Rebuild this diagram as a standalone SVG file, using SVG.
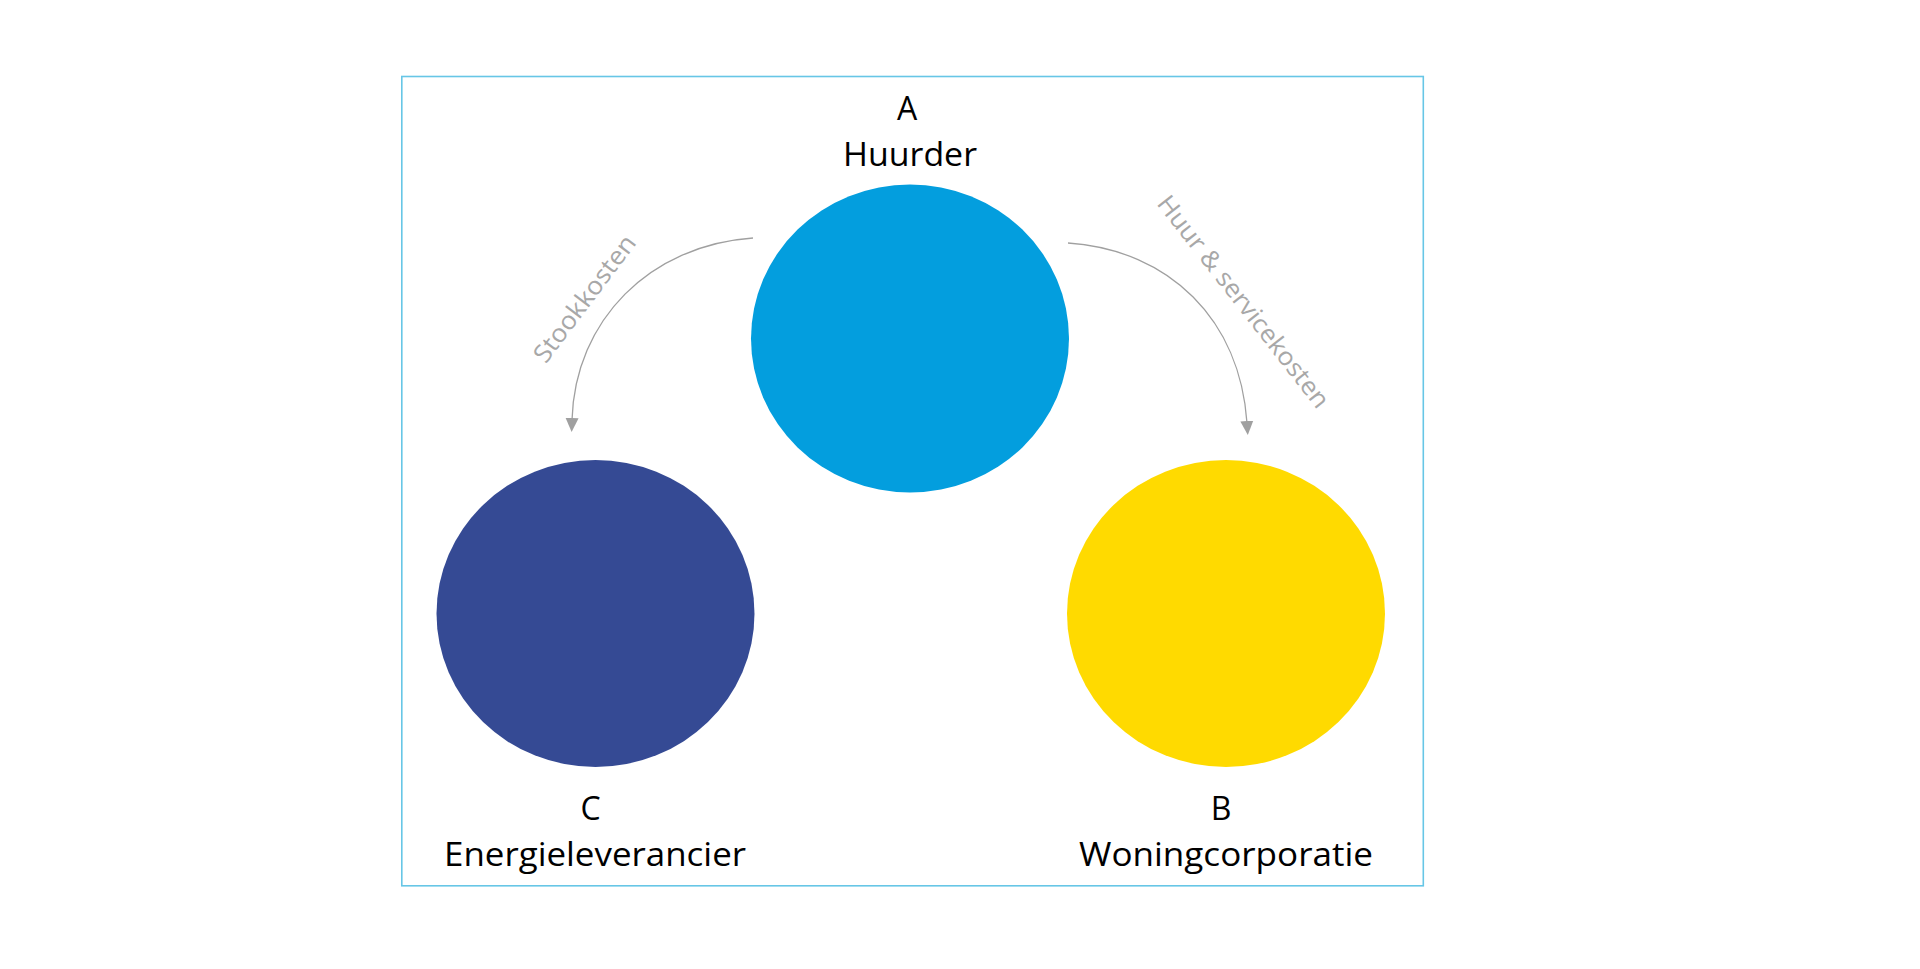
<svg xmlns="http://www.w3.org/2000/svg" width="1920" height="969" viewBox="0 0 1920 969">
  <style>
    .lbl { font-family: "Open Sans", "Liberation Sans", sans-serif; font-size: 32px; fill: #000000; text-anchor: middle; }
    .elbl { font-family: "Open Sans", "Liberation Sans", sans-serif; font-size: 25px; fill: #A8A8A8; text-anchor: middle; }
    .conn { fill: none; stroke: #A0A0A0; stroke-width: 1.3; marker-end: url(#arr); }
  </style>
  <defs>
    <marker id="arr" markerUnits="userSpaceOnUse" markerWidth="16" markerHeight="16" viewBox="0 0 16 16" refX="2" refY="8" orient="auto">
      <path d="M0,1.5 L14,8 L0,14.5 Z" fill="#A0A0A0"/>
    </marker>
  </defs>
  <rect width="1920" height="969" fill="#FFFFFF"/>
  <rect id="frame" x="401.8" y="76.5" width="1021.5" height="809.3" fill="none" stroke="#67C6E6" stroke-width="1.6"/>

  <g id="connectors">
    <path class="conn" d="M753,238 C650,245 575,320 572,420"/>
    <path class="conn" d="M1068,243 C1170,250 1240,320 1247,423"/>
    <text class="elbl" transform="translate(585,299) rotate(-53)" y="8" textLength="152" lengthAdjust="spacingAndGlyphs">Stookkosten</text>
    <text class="elbl" transform="translate(1243,302) rotate(52)" y="8" textLength="262" lengthAdjust="spacingAndGlyphs">Huur &amp; servicekosten</text>
  </g>

  <g id="node-A">
    <ellipse cx="910" cy="338.5" rx="159" ry="154" fill="#039EDE"/>
    <text class="lbl" x="907" y="120">A</text>
    <text class="lbl" x="910" y="166" textLength="134" lengthAdjust="spacingAndGlyphs">Huurder</text>
  </g>

  <g id="node-C">
    <ellipse cx="595.5" cy="613.5" rx="159" ry="153.5" fill="#354A94"/>
    <text class="lbl" x="590.5" y="820">C</text>
    <text class="lbl" x="595" y="866" textLength="302" lengthAdjust="spacingAndGlyphs">Energieleverancier</text>
  </g>

  <g id="node-B">
    <ellipse cx="1226" cy="613.5" rx="159" ry="153.5" fill="#FFDA00"/>
    <text class="lbl" x="1221" y="820">B</text>
    <text class="lbl" x="1226" y="866" textLength="294" lengthAdjust="spacingAndGlyphs">Woningcorporatie</text>
  </g>
</svg>
